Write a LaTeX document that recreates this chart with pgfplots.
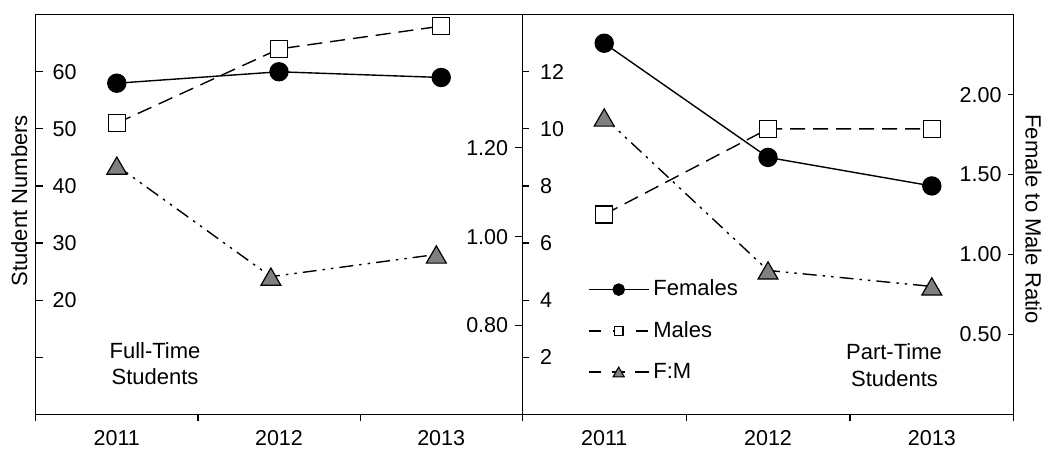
\documentclass[border=0pt]{standalone}
\usepackage{pgfplots}
\pgfplotsset{compat=1.18}
\usepackage{fontspec}
\setmainfont{Liberation Sans}
\definecolor{trigray}{RGB}{128,128,128}
\pgfplotsset{
  base/.style={scale only axis, anchor=south west, height=399.6bp,
    xmin=-0.5, xmax=2.5, clip=false,
    axis line style={line width=1.2bp},
    tick style={line width=1.2bp, black}},
  frame/.style={base, ymin=0, ymax=1, ytick=\empty,
    xtick={0,1,2}, xticklabels={2011,2012,2013},
    major tick length=0pt,
    minor xtick={-0.5,0.5,1.5,2.5}, minor tick length=7bp,
    tick align=outside, xtick pos=bottom,
    xticklabel style={inner sep=0pt, anchor=base, yshift=-31.2bp, font=\fontsize{21.5bp}{25bp}\selectfont}},
  yonly/.style={base, hide x axis, axis line style={draw=none},
    tick align=inside,
    yticklabel style={inner sep=0pt, font=\fontsize{21.5bp}{25bp}\selectfont}},
  fem/.style={black, line width=1.4bp, mark=*, mark size=9bp, mark options={solid}},
  mal/.style={black, line width=1.4bp, dash pattern=on 15bp off 8bp, mark=square*, mark size=8.4bp, mark options={solid, fill=white, line width=1.3bp}},
  rat/.style={black, line width=1.4bp, dash pattern=on 14bp off 6bp on 2.5bp off 6bp on 2.5bp off 6bp, mark=triangle*, mark size=11.5bp, mark options={solid, fill=trigray, line width=1.2bp, yshift=-2.9bp}},
}
\begin{document}
\fontsize{22bp}{26bp}\selectfont
\begin{tikzpicture}[x=1bp,y=1bp]
\useasboundingbox (0,0) rectangle (1046,449);
% ---------- Left panel: Full-time ----------
\begin{axis}[frame, at={(35.7bp,34.7bp)}, width=486.6bp]
\end{axis}
\begin{axis}[yonly, at={(35.7bp,34.7bp)}, width=486.6bp, ymin=0, ymax=70,
  ytick={10,20,30,40,50,60}, yticklabels={,20,30,40,50,60},
  ytick pos=left, major tick length=7bp,
  yticklabel style={anchor=west, xshift=16.7bp}]
\addplot[fem] coordinates {(0,58) (1,60) (2,59)};
\addplot[mal] coordinates {(0,51) (1,64) (2,68)};
\end{axis}
\begin{axis}[yonly, at={(35.7bp,34.7bp)}, width=486.6bp, ymin=0.6, ymax=1.5,
  ytick={0.8,1.0,1.2}, yticklabels={0.80,1.00,1.20},
  ytick pos=right, major tick length=7bp,
  yticklabel style={anchor=east, xshift=-14bp}]
\addplot[rat] coordinates {(0,1.16) (0.95,0.91) (1.97,0.96)};
\end{axis}
% ---------- Right panel: Part-time ----------
\begin{axis}[frame, at={(522.3bp,34.7bp)}, width=491.4bp]
\end{axis}
\begin{axis}[yonly, at={(522.3bp,34.7bp)}, width=491.4bp, ymin=0, ymax=14,
  ytick={2,4,6,8,10,12}, yticklabels={2,4,6,8,10,12},
  ytick pos=left, major tick length=7bp,
  yticklabel style={anchor=west, xshift=17.7bp},
  legend style={draw=none, fill=none, inner sep=0pt, outer sep=0pt,
    at={(axis description cs:0.1337,0.3361)}, anchor=north west,
    row sep=22.2bp, column sep=4bp, nodes={inner sep=0pt}},
  legend cell align=left,
  legend image code/.code={\draw[mark repeat=2,mark phase=2,#1] plot coordinates {(0bp,0bp) (30bp,0bp) (60bp,0bp)};}]
\addplot[fem, forget plot] coordinates {(0,13) (1,9) (2,8)};
\addplot[mal, forget plot] coordinates {(0,7) (1,10) (2,10)};
\addlegendimage{black, line width=1.4bp, mark=*, mark size=5.6bp}
\addlegendentry{Females}
\addlegendimage{black, line width=1.4bp, dash pattern=on 12.5bp off 12bp on 11bp off 11.5bp on 12bp off 10bp, mark=square*, mark size=4.3bp, mark options={solid, fill=white, line width=1.2bp}}
\addlegendentry{Males}
\addlegendimage{black, line width=1.4bp, dash pattern=on 12bp off 11bp on 13bp off 10bp on 14bp off 10bp, mark=triangle*, mark size=6.5bp, mark options={solid, fill=trigray, line width=1.1bp, yshift=-1.6bp}}
\addlegendentry{F:M}
\end{axis}
\begin{axis}[yonly, at={(522.3bp,34.7bp)}, width=491.4bp, ymin=0, ymax=2.5,
  ytick={0.5,1.0,1.5,2.0}, yticklabels={0.50,1.00,1.50,2.00},
  ytick pos=right, major tick length=6bp,
  yticklabel style={anchor=east, xshift=-12bp}]
\addplot[rat] coordinates {(0,1.857) (1,0.9) (2,0.8)};
\end{axis}
% ---------- Texts ----------
\node[anchor=base, inner sep=0pt] at (155,90.7) {Full-Time};
\node[anchor=base, inner sep=0pt] at (155,64) {Students};
\node[anchor=base, inner sep=0pt] at (894,89) {Part-Time};
\node[anchor=base, inner sep=0pt] at (894.5,62.3) {Students};
\node[rotate=90, anchor=base, inner sep=0pt] at (27,248.3) {Student Numbers};
\node[rotate=-90, anchor=base, inner sep=0pt] at (1025.5,230) {Female to Male Ratio};
\end{tikzpicture}
\end{document}
